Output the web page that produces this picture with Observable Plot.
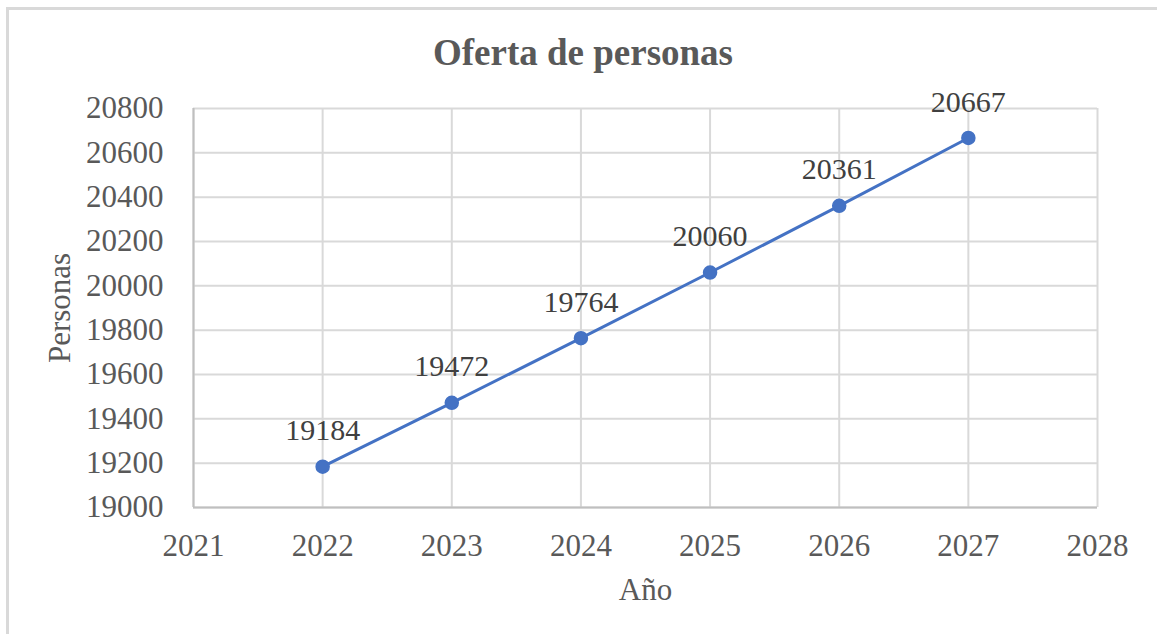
<!DOCTYPE html>
<html>
<head>
<meta charset="utf-8">
<script src="https://cdn.jsdelivr.net/npm/d3@7"></script>
<script src="https://cdn.jsdelivr.net/npm/@observablehq/plot@0.6"></script>
<style>
  html, body { margin: 0; padding: 0; background: #fff; }
  #chart { position: relative; width: 1157px; height: 634px; overflow: hidden; background: #fff; font-family: "Liberation Serif", "Times New Roman", serif; color: #595959; }
  #frame { position: absolute; left: 6px; top: 7px; width: 1300px; height: 800px; border: 3px solid #d9d9d9; box-sizing: border-box; }
  #title { position: absolute; left: 0; top: 34px; width: 1166px; text-align: center; font-weight: bold; font-size: 37px; line-height: 1; color: #595959; }
  #plot { position: absolute; left: 0; top: 80px; }
</style>
</head>
<body>
<div id="chart">
  <div id="frame"></div>
  <div id="title">Oferta de personas</div>
  <div id="plot"></div>
</div>
<script>
const years = [2022, 2023, 2024, 2025, 2026, 2027];
const personas = [19184, 19472, 19764, 20060, 20361, 20667];
const xTicks = [2021, 2022, 2023, 2024, 2025, 2026, 2027, 2028];
const yTicks = [19000, 19200, 19400, 19600, 19800, 20000, 20200, 20400, 20600, 20800];
const xLabel = "Año";
const yLabel = "Personas";

const data = years.map((y, i) => ({year: y, value: personas[i]}));
const blue = "#4472C4";
const grid = "#d9d9d9";
const axisCol = "#bfbfbf";

const chart = Plot.plot({
  width: 1157,
  height: 554,
  marginLeft: 193,
  marginRight: 60,
  marginTop: 28,
  marginBottom: 127,
  style: {fontFamily: "'Liberation Serif', 'Times New Roman', serif", fontSize: "31px", color: "#595959", background: "transparent", overflow: "visible"},
  x: {domain: [2021, 2028], ticks: xTicks, tickFormat: "d"},
  y: {domain: [19000, 20800], ticks: yTicks, tickFormat: "d"},
  marks: [
    Plot.gridX(xTicks, {stroke: grid, strokeOpacity: 1, strokeWidth: 2}),
    Plot.gridY(yTicks, {stroke: grid, strokeOpacity: 1, strokeWidth: 2}),
    Plot.ruleX([xTicks[0]], {stroke: axisCol, strokeWidth: 2}),
    Plot.ruleY([yTicks[0]], {stroke: axisCol, strokeWidth: 2}),
    Plot.axisX(xTicks, {tickSize: 0, tickPadding: 26, tickFormat: "d", label: null}),
    Plot.axisY(yTicks, {tickSize: 0, tickPadding: 30, tickFormat: "d", label: null}),
    Plot.line(data, {x: "year", y: "value", stroke: blue, strokeWidth: 3}),
    Plot.dot(data, {x: "year", y: "value", r: 6.5, fill: blue, stroke: blue}),
    Plot.text(data, {x: "year", y: "value", text: d => String(d.value), dy: -36, fill: "#404040", fontSize: 30}),
    Plot.text([xLabel], {frameAnchor: "bottom", textAnchor: "middle", lineAnchor: "middle", dy: 83, fill: "#595959", fontSize: 31}),
    Plot.text([yLabel], {frameAnchor: "left", textAnchor: "middle", lineAnchor: "middle", dx: -133, rotate: -90, fill: "#595959", fontSize: 31})
  ]
});
document.getElementById("plot").appendChild(chart);
</script>
</body>
</html>
